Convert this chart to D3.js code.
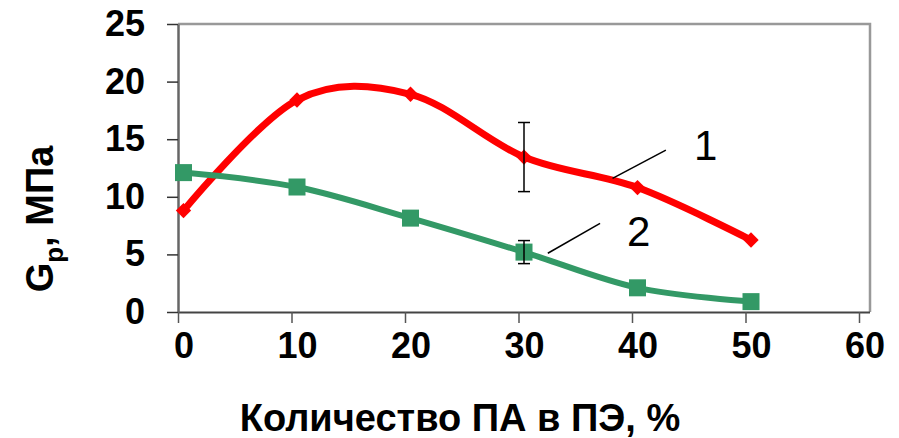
<!DOCTYPE html>
<html>
<head>
<meta charset="utf-8">
<script src="https://cdn.jsdelivr.net/npm/d3@7"></script>
<style>
  body { margin: 0; background: #fff; }
  text { font-family: "Liberation Sans", Arial, sans-serif; }
</style>
</head>
<body>
<svg width="899" height="438"></svg>
<script>
// Data
const xValues = [0, 10, 20, 30, 40, 50];
const series1 = [8.8, 18.4, 18.9, 13.45, 10.8, 6.25];   // red, curve 1
const series2 = [12.1, 10.85, 8.15, 5.2, 2.1, 0.9];     // green, curve 2
const err1 = [null, null, null, 3.0, null, null];
const err2 = [null, null, null, 1.0, null, null];
const xTicks = [0, 10, 20, 30, 40, 50, 60];
const yTicks = [0, 5, 10, 15, 20, 25];
const labels = [
  { text: "1", from: [37.8, 11.6], to: [42.5, 14.05], at: [46.0, 13.2] },
  { text: "2", from: [32.1, 5.1], to: [36.7, 7.7], at: [40.1, 5.7] }
];

const svg = d3.select("svg");

// Scales
const x = d3.scaleLinear().domain([0, 60]).range([183.5, 864.5]);
const y = d3.scaleLinear().domain([0, 25]).range([312, 24]);
const tickShift = -5.5; // ticks sit slightly left of the data in the original

// Frame (top and right)
svg.append("path")
  .attr("d", `M178,${y(25)} H870 V${y(0)}`)
  .attr("fill", "none")
  .attr("stroke", "#999")
  .attr("stroke-width", 2.5);

// X axis
const gx = svg.append("g")
  .attr("transform", `translate(0,${y(0)})`)
  .call(d3.axisBottom(x).tickValues(xTicks).tickSize(11).tickPadding(9).tickSizeOuter(0));
gx.select(".domain").attr("d", `M178,0.5H870`).attr("stroke", "#444").attr("stroke-width", 2);
gx.selectAll(".tick line").attr("transform", `translate(${tickShift},0)`).attr("stroke", "#555").attr("stroke-width", 1.5);
gx.selectAll(".tick text")
  .attr("font-size", 36).attr("font-weight", "bold").attr("fill", "#000")
  .attr("font-family", "Liberation Sans, Arial, sans-serif");

// Y axis
const gy = svg.append("g")
  .attr("transform", "translate(178,0)")
  .call(d3.axisLeft(y).tickValues(yTicks).tickSize(11).tickPadding(22).tickSizeOuter(0));
gy.select(".domain").attr("stroke", "#666").attr("stroke-width", 2.5);
gy.selectAll(".tick line").attr("stroke", "#333").attr("stroke-width", 1.5);
gy.selectAll(".tick text")
  .attr("font-size", 36).attr("font-weight", "bold").attr("fill", "#000")
  .attr("font-family", "Liberation Sans, Arial, sans-serif");

// Axis titles
svg.append("text")
  .attr("x", 460)
  .attr("y", 431)
  .attr("text-anchor", "middle")
  .attr("font-size", 38)
  .attr("font-weight", "bold")
  .text("Количество ПА в ПЭ, %");

const yt = svg.append("text")
  .attr("transform", `translate(53,${(y(0) + y(25)) / 2 + 51}) rotate(-90)`)
  .attr("text-anchor", "middle")
  .attr("font-size", 38)
  .attr("font-weight", "bold");
yt.append("tspan").text("G");
yt.append("tspan").attr("font-size", 26).attr("dy", 10).text("р");
yt.append("tspan").attr("dy", -10).text(", МПа");

// Lines
const line = d3.line()
  .x(d => x(d[0]))
  .y(d => y(d[1]))
  .curve(d3.curveCatmullRom.alpha(0));

const pts1 = xValues.map((v, i) => [v, series1[i]]);
const pts2 = xValues.map((v, i) => [v, series2[i]]);

// Error bars
function errorBars(pts, errs) {
  const data = pts.map((p, i) => ({ p, e: errs[i] })).filter(d => d.e != null);
  const g = svg.append("g").attr("stroke", "#000").attr("stroke-width", 1.5);
  data.forEach(d => {
    const cx = x(d.p[0]);
    g.append("line").attr("x1", cx).attr("x2", cx).attr("y1", y(d.p[1] - d.e)).attr("y2", y(d.p[1] + d.e));
    g.append("line").attr("x1", cx - 6).attr("x2", cx + 6).attr("y1", y(d.p[1] - d.e)).attr("y2", y(d.p[1] - d.e));
    g.append("line").attr("x1", cx - 6).attr("x2", cx + 6).attr("y1", y(d.p[1] + d.e)).attr("y2", y(d.p[1] + d.e));
  });
}

svg.append("path").datum(pts1)
  .attr("fill", "none").attr("stroke", "#ff0000").attr("stroke-width", 7)
  .attr("d", line);
svg.append("g").selectAll("path").data(pts1).join("path")
  .attr("transform", d => `translate(${x(d[0])},${y(d[1])})`)
  .attr("d", d3.symbol(d3.symbolDiamond2, 150))
  .attr("fill", "#ff0000");

svg.append("path").datum(pts2)
  .attr("fill", "none").attr("stroke", "#339966").attr("stroke-width", 6)
  .attr("d", line);
svg.append("g").selectAll("rect").data(pts2).join("rect")
  .attr("x", d => x(d[0]) - 8.5).attr("y", d => y(d[1]) - 8.5)
  .attr("width", 17).attr("height", 17)
  .attr("fill", "#339966");

errorBars(pts1, err1);
errorBars(pts2, err2);

// Curve labels with leader lines
labels.forEach(l => {
  svg.append("line")
    .attr("x1", x(l.from[0])).attr("y1", y(l.from[1]))
    .attr("x2", x(l.to[0])).attr("y2", y(l.to[1]))
    .attr("stroke", "#000").attr("stroke-width", 1.5);
  svg.append("text")
    .attr("x", x(l.at[0])).attr("y", y(l.at[1]))
    .attr("text-anchor", "middle")
    .attr("font-size", 42)
    .text(l.text);
});
</script>
</body>
</html>
